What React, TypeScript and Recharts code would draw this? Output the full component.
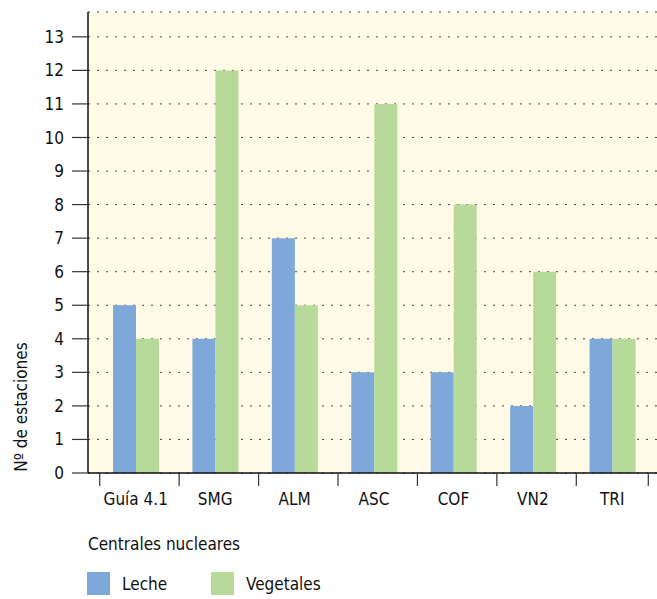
import React from "react";
import { BarChart, Bar, XAxis, YAxis, CartesianGrid } from "recharts";

const categories = ["Guía 4.1", "SMG", "ALM", "ASC", "COF", "VN2", "TRI"];
const leche = [5, 4, 7, 3, 3, 2, 4];
const vegetales = [4, 12, 5, 11, 8, 6, 4];
const yTicks = [0, 1, 2, 3, 4, 5, 6, 7, 8, 9, 10, 11, 12, 13];

const data = categories.map((name, i) => ({
  name,
  leche: leche[i],
  vegetales: vegetales[i],
}));

const FONT = '"Liberation Sans Narrow", "DejaVu Sans Condensed", "Noto Sans", sans-serif';
const BLUE = "#7ea8da";
const GREEN = "#b7da9b";
const BG = "#fffbe7";

const XTick = (props: any) => {
  const { x, y, payload, index } = props;
  const last = index === categories.length - 1;
  return (
    <g>
      <line x1={x - 36} x2={x - 36} y1={y} y2={y + 13} stroke="#333" strokeWidth={1.2} />
      {last && <line x1={x + 36} x2={x + 36} y1={y} y2={y + 13} stroke="#333" strokeWidth={1.2} />}
      <text x={x} y={y + 32} textAnchor="middle" fontSize={17} fill="#111" fontFamily={FONT}>
        {payload.value}
      </text>
    </g>
  );
};

const LegendBox = () => (
  <div style={{ fontFamily: FONT, color: "#111", fontSize: 17 }}>
    <div style={{ marginLeft: 88, height: 24, lineHeight: "24px" }}>Centrales nucleares</div>
    <div style={{ display: "flex", alignItems: "center", marginTop: 16, marginLeft: 87 }}>
      <span style={{ width: 23, height: 23, background: BLUE, display: "inline-block" }} />
      <span style={{ marginLeft: 12, width: 89 }}>Leche</span>
      <span style={{ width: 23, height: 23, background: GREEN, display: "inline-block" }} />
      <span style={{ marginLeft: 12 }}>Vegetales</span>
    </div>
  </div>
);

export default function App() {
  return (
    <div style={{ position: "absolute", left: 0, top: 0, width: 657, height: 599, background: "#fff" }}>
      <BarChart
        width={657}
        height={599}
        data={data}
        margin={{ top: 12, right: 0, bottom: 0, left: 0 }}
        barGap={0}
        barSize={23}
      >
        <CartesianGrid vertical={false} fill={BG} stroke="#444" strokeDasharray="2 7" />
        <XAxis
          dataKey="name"
          axisLine={{ stroke: "#111", strokeWidth: 1.5 }}
          tickLine={false}
          tickSize={0}
          tickMargin={0}
          height={126}
          padding={{ left: 8, right: 5 }}
          tick={<XTick />}
          interval={0}
        />
        <YAxis
          domain={[0, 13.74]}
          ticks={yTicks}
          interval={0}
          width={88}
          tickSize={16}
          tickMargin={8}
          axisLine={{ stroke: "#111", strokeWidth: 1.5 }}
          tickLine={{ stroke: "#333", strokeWidth: 1.2 }}
          tick={{ fontSize: 17, fill: "#111", fontFamily: FONT }}
          label={() => (
            <text
              x={22}
              y={407}
              transform="rotate(-90 22 407)"
              textAnchor="middle"
              dominantBaseline="middle"
              fontSize={17}
              fill="#111"
              fontFamily={FONT}
            >
              Nº de estaciones
            </text>
          )}
        />
        <Bar dataKey="leche" name="Leche" fill={BLUE} isAnimationActive={false} />
        <Bar dataKey="vegetales" name="Vegetales" fill={GREEN} isAnimationActive={false} />
      </BarChart>
      <div style={{ position: "absolute", left: 0, top: 532, width: 657 }}>
        <LegendBox />
      </div>
    </div>
  );
}
